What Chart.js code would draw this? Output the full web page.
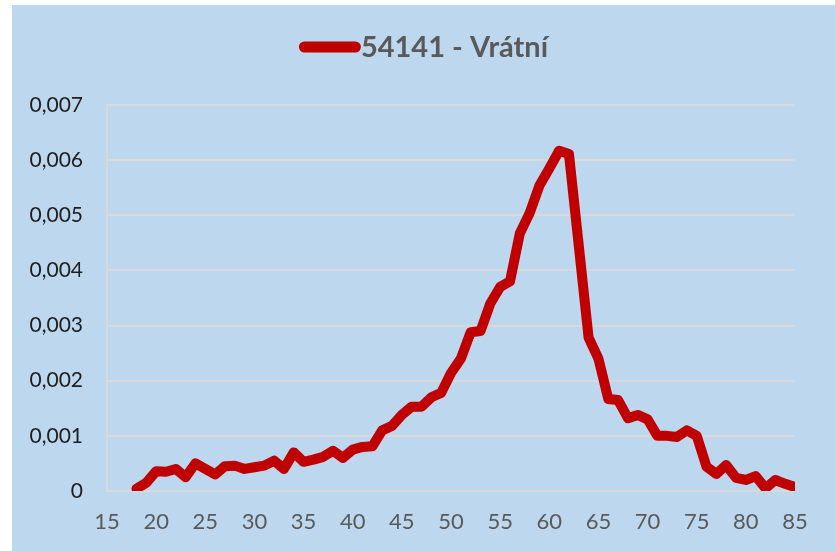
<!DOCTYPE html>
<html>
<head>
<meta charset="utf-8">
<script src="https://cdn.jsdelivr.net/npm/chart.js@4.4.0/dist/chart.umd.min.js"></script>
<style>
  html, body { margin: 0; padding: 0; background: #ffffff; }
  #wrap { position: absolute; left: 12px; top: 5px; width: 823px; height: 546px; background: #BDD7EE; }
  canvas { display: block; }
</style>
</head>
<body>
<div id="wrap"><canvas id="c" width="823" height="546"></canvas></div>
<script>
const seriesLabel = '54141 - Vrátní';
const ages = [18,19,20,21,22,23,24,25,26,27,28,29,30,31,32,33,34,35,36,37,38,39,40,41,42,43,44,45,46,47,48,49,50,51,52,53,54,55,56,57,58,59,60,61,62,63,64,65,66,67,68,69,70,71,72,73,74,75,76,77,78,79,80,81,82,83,84,85];
const values = [0.00004,0.00015,0.00036,0.00035,0.0004,0.00025,0.0005,0.0004,0.0003,0.00045,0.00046,0.0004,0.00043,0.00046,0.00055,0.0004,0.0007,0.00053,0.00057,0.00062,0.00073,0.0006,0.00075,0.0008,0.00081,0.0011,0.00118,0.00138,0.00153,0.00153,0.0017,0.00178,0.00214,0.0024,0.00288,0.0029,0.0034,0.0037,0.0038,0.00467,0.00504,0.00554,0.00585,0.00617,0.00611,0.00445,0.00278,0.0024,0.00167,0.00165,0.00132,0.00138,0.0013,0.001,0.001,0.00098,0.0011,0.001,0.00044,0.00031,0.00047,0.00024,0.0002,0.00027,0.00005,0.0002,0.00013,0.00007];
const xTicks = [15,20,25,30,35,40,45,50,55,60,65,70,75,80,85];
const yTicks = [0,0.001,0.002,0.003,0.004,0.005,0.006,0.007];

const points = ages.map((a, i) => ({ x: a, y: values[i] }));

const legendPlugin = {
  id: 'topLegend',
  afterDraw(chart) {
    const ctx = chart.ctx;
    const ds = chart.data.datasets[0];
    ctx.save();
    ctx.font = 'bold 29px Lato';
    const tw = ctx.measureText(ds.label).width;
    const boxW = 62;
    const total = boxW + tw;
    const x0 = (chart.width - total) / 2;
    const cy = 42;
    ctx.strokeStyle = ds.borderColor;
    ctx.lineWidth = 11;
    ctx.lineCap = 'round';
    ctx.beginPath();
    ctx.moveTo(x0 + 5.5, cy);
    ctx.lineTo(x0 + boxW - 5.5, cy);
    ctx.stroke();
    ctx.fillStyle = '#595959';
    ctx.textBaseline = 'middle';
    ctx.textAlign = 'left';
    ctx.fillText(ds.label, x0 + boxW, cy + 1);
    ctx.restore();
  }
};

new Chart(document.getElementById('c'), {
  type: 'line',
  data: {
    datasets: [{
      label: seriesLabel,
      data: points,
      borderColor: '#C00000',
      backgroundColor: '#C00000',
      borderWidth: 10,
      pointRadius: 0,
      tension: 0,
      borderJoinStyle: 'round',
      borderCapStyle: 'round',
      fill: false
    }]
  },
  options: {
    responsive: false,
    animation: false,
    layout: { padding: { top: 100, right: 40, bottom: 0, left: 0 } },
    plugins: { legend: { display: false }, tooltip: { enabled: false } },
    scales: {
      x: {
        type: 'linear',
        min: 15, max: 85,
        afterBuildTicks(scale) { scale.ticks = xTicks.map(v => ({ value: v })); },
        afterFit(scale) { scale.height = 60; },
        grid: { display: false, drawTicks: false },
        border: { display: false },
        ticks: { color: '#595959', font: { family: 'Lato', size: 22 }, padding: 18, maxRotation: 0, autoSkip: false }
      },
      y: {
        min: 0, max: 0.007,
        afterBuildTicks(scale) { scale.ticks = yTicks.map(v => ({ value: v })); },
        afterFit(scale) { scale.width = 95; },
        grid: { color: '#D9D9D9', lineWidth: 2, drawTicks: false },
        border: { display: true, color: '#D9D9D9', width: 2 },
        ticks: {
          color: '#1e1e1e',
          font: { family: 'Lato', size: 21 },
          padding: 24,
          autoSkip: false,
          callback: v => v === 0 ? '0' : v.toFixed(3).replace('.', ',')
        }
      }
    }
  },
  plugins: [legendPlugin]
});
</script>
</body>
</html>
